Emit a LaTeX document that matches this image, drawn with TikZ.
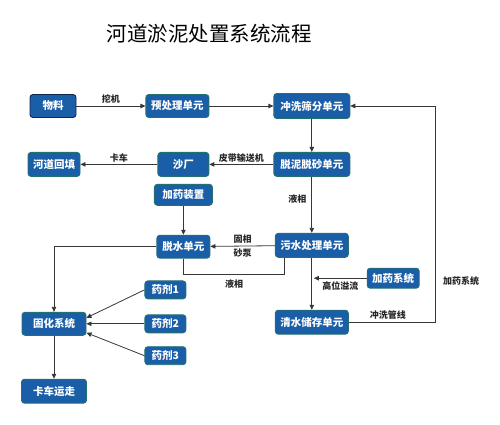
\documentclass[tikz,border=0pt]{standalone}
\usepackage{fontspec}
\setmainfont{Noto Sans CJK SC}
\usetikzlibrary{arrows.meta, positioning, calc}

\definecolor{unitfill}{RGB}{27,94,168}
\definecolor{unitedge}{RGB}{36,112,112}
\definecolor{rawedge}{RGB}{14,40,78}
\definecolor{linegray}{RGB}{55,55,55}

\begin{document}
\begin{tikzpicture}[
		unit/.style={
			rectangle, 
			draw=unitedge, 
			fill=unitfill, 
			line width=0.9pt, 
			text=white, 
			font=\fontsize{10.5}{12}\selectfont\bfseries, 
			align=center, 
			inner xsep=5pt, 
			minimum height=23pt, 
			rounded corners=3pt
		},
		raw/.style={
			unit, 
			draw=rawedge
		},
		arrow/.style={
			-{Triangle[length=5pt, width=4.5pt]}, 
			line width=0.8pt, 
			draw=linegray
		},
		pipe/.style={
			line width=0.8pt, 
			draw=linegray
		},
		lbl/.style={
			font=\fontsize{9}{10}\selectfont\bfseries, 
			text=black!85, 
			inner sep=2pt
		}
		]
		
		\useasboundingbox (0,0) rectangle (500pt,-425pt);
		
		% Title
		\node (title) at (209pt,-34pt) {\fontsize{20.5}{24}\selectfont 河道淤泥处置系统流程};
		
		% Main nodes
		\node (wuliao) [raw, minimum width=46pt] at (53pt,-106pt) {物料};
		\node (yuchuli) [unit, minimum width=63pt, right=69pt of wuliao] {预处理单元};
		\node (chongxi) [unit, minimum width=76pt, minimum height=25pt, right=64pt of yuchuli] {冲洗筛分单元};
		\node (tuoni) [unit, minimum width=76pt, minimum height=24pt, below=33pt of chongxi] {脱泥脱砂单元};
		\node (wushui) [unit, minimum width=73pt, minimum height=24pt, below=56pt of tuoni] {污水处理单元};
		\node (qingshui) [unit, minimum width=73pt, minimum height=24pt, below=52pt of wushui] {清水储存单元};
		\node (jiayaoxt) [unit, minimum width=52pt, minimum height=20pt, below right=10pt and 18pt of wushui] {加药系统};
		
		% Sand and dewatering branch
		\node (shachang) [unit, minimum width=51pt, minimum height=24pt, left=64pt of tuoni] {沙厂};
		\node (hedao) [unit, minimum width=51pt, minimum height=24pt, left=77pt of shachang] {河道回填};
		\node (jiayao) [unit, minimum width=58pt, minimum height=21pt, below=7pt of shachang] {加药装置};
		\node (tuoshui) [unit, minimum width=53pt, below=29pt of jiayao] {脱水单元};
		
		% Solidification branch
		\node (guhua) [unit, minimum width=64pt, below=135pt of hedao] {固化系统};
		\node (kache) [unit, minimum width=65pt, minimum height=24pt, below=43pt of guhua] {卡车运走};
		\node (yaoji2) [unit, minimum width=41pt, minimum height=18pt, right=58pt of guhua] {药剂2};
		\node (yaoji1) [unit, minimum width=41pt, minimum height=18pt, above=15pt of yaoji2] {药剂1};
		\node (yaoji3) [unit, minimum width=41pt, minimum height=18pt, below=13pt of yaoji2] {药剂3};
		
		% Helper points for the return lines
		\coordinate (ret) at ($(wushui.south)+(-27pt,-17pt)$);
		\coordinate (wash) at ($(qingshui.east)+(87pt,0)$);
		
		% Connection arrows
		\draw [arrow] (wuliao) -- node[lbl, above] {挖机} (yuchuli);
		\draw [arrow] (yuchuli) -- (chongxi);
		\draw [arrow] (chongxi) -- (tuoni);
		\draw [arrow] (tuoni) -- node[lbl, above] {皮带输送机} (shachang);
		\draw [arrow] (shachang) -- node[lbl, above] {卡车} (hedao);
		\draw [arrow] (tuoni) -- node[lbl, left=3pt, pos=0.4] {液相} (wushui);
		\draw [arrow] (jiayao) -- (tuoshui);
		\draw [arrow] (wushui) -- node[lbl, above] {固相} node[lbl, below] {砂泵} (tuoshui);
		\draw [pipe] (tuoshui.south) |- node[lbl, below=3pt, pos=0.75] {液相} (ret) -- (ret |- wushui.south);
		\draw [arrow] (tuoshui.west) -| (guhua.north);
		\draw [arrow] (yaoji1.west) -- ([yshift=6pt]guhua.east);
		\draw [arrow] (yaoji2.west) -- (guhua.east);
		\draw [arrow] (yaoji3.west) -- ([yshift=-9pt]guhua.east);
		\draw [arrow] (guhua) -- (kache);
		\draw [arrow] (wushui) -- (qingshui);
		\draw [arrow] (jiayaoxt.west) -- node[lbl, below=1pt] {高位溢流} ([xshift=2pt]jiayaoxt.west -| wushui.south);
		\draw [arrow] (qingshui.east) -- node[lbl, above, pos=0.45] {冲洗管线} (wash) -- node[lbl, right=5pt, pos=0.19] {加药系统} (wash |- chongxi.east) -- (chongxi.east);
		
	\end{tikzpicture}
\end{document}
